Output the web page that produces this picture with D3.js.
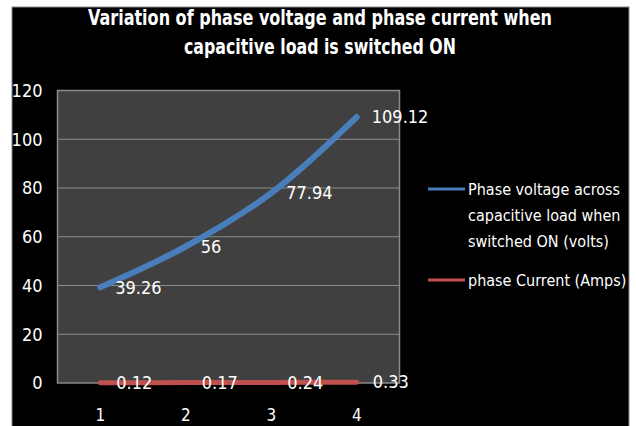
<!DOCTYPE html>
<html><head><meta charset="utf-8">
<script src="https://cdn.jsdelivr.net/npm/d3@7"></script>
<style>body{margin:0;background:#fff;}svg{display:block;}</style>
</head><body>
<svg id="c" width="636" height="426"></svg>
<script>
const categories = ["1","2","3","4"];
const voltage = [39.26, 56, 77.94, 109.12];
const current = [0.12, 0.17, 0.24, 0.33];
const yTicks = [0,20,40,60,80,100,120];
const titleLines = ["Variation of phase voltage  and phase current when","capacitive load is switched ON"];
const legendVoltage = ["Phase voltage across","capacitive load when","switched ON (volts)"];
const legendCurrent = "phase Current (Amps)";

const FONT = "'Liberation Sans Narrow','DejaVu Sans Condensed','Open Sans',sans-serif";
const svg = d3.select("#c");
svg.append("rect").attr("x",12).attr("y",7).attr("width",617).attr("height",420).attr("fill","#000").attr("stroke","#888").attr("stroke-width",1);

const pl=57.5, pr=399.5, pt=90.5, pb=383;
const x = d3.scaleBand().domain(categories).range([pl,pr]);
const y = d3.scaleLinear().domain([0,120]).range([pb,pt]);

svg.append("rect").attr("x",pl).attr("y",pt).attr("width",pr-pl).attr("height",pb-pt).attr("fill","#404040").attr("stroke","#8a8a8a").attr("stroke-width",1.5);

// gridlines
svg.append("g").selectAll("line").data(yTicks.filter(d=>d>0&&d<120)).join("line")
 .attr("x1",pl).attr("x2",pr).attr("y1",d=>y(d)).attr("y2",d=>y(d)).attr("stroke","#8c8c8c").attr("stroke-width",1.2);

// y axis labels
const yAxis = d3.axisLeft(y).tickValues(yTicks).tickSize(0).tickPadding(15);
const gy = svg.append("g").attr("transform",`translate(${pl},0)`).call(yAxis);
gy.select(".domain").remove();
gy.selectAll("text").attr("fill","#fff").attr("font-family",FONT).attr("font-size",18);

// x axis labels
const xAxis = d3.axisBottom(x).tickSize(0).tickPadding(0);
const gx = svg.append("g").attr("transform",`translate(0,${pb})`).call(xAxis);
gx.select(".domain").remove();
gx.selectAll("text").attr("fill","#fff").attr("font-family",FONT).attr("font-size",17).attr("dy",null).attr("y",38);

const cx = d=>x(d)+x.bandwidth()/2;
const line = d3.line().x((d,i)=>cx(categories[i])).y(d=>y(d)).curve(d3.curveCatmullRom.alpha(0.5));

svg.append("path").datum(current).attr("d",line).attr("fill","none").attr("stroke","#c0504d").attr("stroke-width",5).attr("stroke-linecap","round");
svg.append("path").datum(voltage).attr("d",line).attr("fill","none").attr("stroke","#4a7ebb").attr("stroke-width",6).attr("stroke-linecap","round");

// data labels
svg.append("g").selectAll("text").data(voltage).join("text")
 .attr("x",(d,i)=>cx(categories[i])+15).attr("y",d=>y(d)).attr("dy","0.35em")
 .attr("fill","#fff").attr("font-family",FONT).attr("font-size",18).text(d=>d);
svg.append("g").selectAll("text").data(current).join("text")
 .attr("x",(d,i)=>cx(categories[i])+16).attr("y",d=>y(d)).attr("dy","0.35em")
 .attr("fill","#fff").attr("font-family",FONT).attr("font-size",18).text(d=>d);

// title
const tw=[464,272], tcy=[18,47];
svg.append("g").selectAll("text").data(titleLines).join("text")
 .attr("x",320).attr("y",(d,i)=>tcy[i]).attr("dy","0.35em").attr("text-anchor","middle")
 .attr("fill","#fff").attr("font-family",FONT).attr("font-weight","bold").attr("font-size",21)
 .attr("textLength",(d,i)=>tw[i]).attr("lengthAdjust","spacingAndGlyphs").text(d=>d);

// legend
svg.append("line").attr("x1",428).attr("x2",465).attr("y1",189).attr("y2",189).attr("stroke","#4a7ebb").attr("stroke-width",3);
svg.append("g").selectAll("text").data(legendVoltage).join("text")
 .attr("x",468).attr("y",(d,i)=>189+i*26).attr("dy","0.35em")
 .attr("fill","#fff").attr("font-family",FONT).attr("font-size",16).text(d=>d);
svg.append("line").attr("x1",428).attr("x2",465).attr("y1",280).attr("y2",280).attr("stroke","#c0504d").attr("stroke-width",3);
svg.append("text").attr("x",468).attr("y",280).attr("dy","0.35em")
 .attr("fill","#fff").attr("font-family",FONT).attr("font-size",16).text(legendCurrent);
</script>
</body></html>
